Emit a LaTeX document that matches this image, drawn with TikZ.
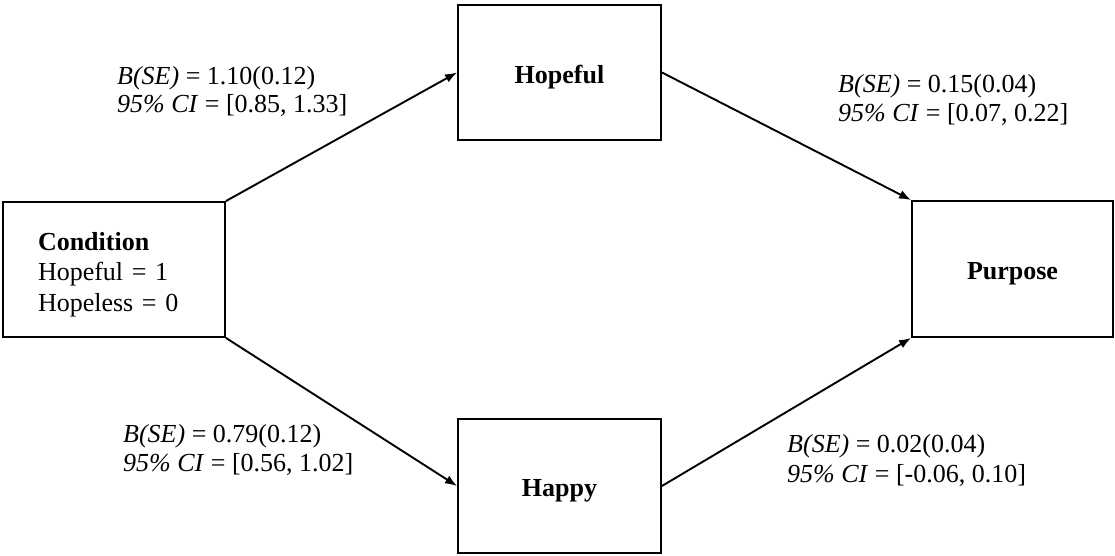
\documentclass[tikz,border=0pt]{standalone}
\usepackage{fontspec}
\setmainfont{Liberation Serif}
\usetikzlibrary{arrows.meta}
\tikzset{
  box/.style={draw=black, line width=1.9pt, rectangle, inner sep=0pt, font=\fontsize{26}{30}\selectfont\bfseries},
  conn/.style={line width=1.9pt, -{Latex[length=12pt,width=9pt]}},
  lab/.style={anchor=base west, inner sep=0pt, font=\fontsize{26}{30}\selectfont}
}
\begin{document}
\begin{tikzpicture}[x=1pt,y=1pt]
\useasboundingbox (0,0) rectangle (1115,556);
\node[box, minimum width=222pt, minimum height=135pt, inner xsep=35pt, text width=152pt, align=left, font=\fontsize{26}{30.5}\selectfont] (cond) at (114,286.5)
  {\rule{0pt}{28pt}\textbf{Condition}\\Hopeful = 1\\Hopeless = 0};
\node[box, minimum width=203pt, minimum height=135pt, text height=28pt, text depth=6pt] (hopeful) at (559.5,483.5) {Hopeful};
\node[box, minimum width=203pt, minimum height=134pt, text height=28pt, text depth=6pt] (happy) at (559.5,70) {Happy};
\node[box, minimum width=201pt, minimum height=136pt, text height=28pt, text depth=6pt] (purpose) at (1012.5,287) {Purpose};

\draw[conn] (cond.north east) -- (hopeful.west);
\draw[conn] (hopeful.east) -- (purpose.north west);
\draw[conn] (cond.south east) -- (happy.west);
\draw[conn] (happy.east) -- (purpose.south west);

\node[lab] (l1a) at (117,471) {\textit{B(SE)} = 1.10(0.12)};
\node[lab] (l1b) at (117,443) {\textit{95\% CI} = [0.85, 1.33]};
\node[lab] (l2a) at (838,463) {\textit{B(SE)} = 0.15(0.04)};
\node[lab] (l2b) at (838,434) {\textit{95\% CI} = [0.07, 0.22]};
\node[lab] (l3a) at (123,113) {\textit{B(SE)} = 0.79(0.12)};
\node[lab] (l3b) at (123,84) {\textit{95\% CI} = [0.56, 1.02]};
\node[lab] (l4a) at (787,103) {\textit{B(SE)} = 0.02(0.04)};
\node[lab] (l4b) at (787,73) {\textit{95\% CI} = [-0.06, 0.10]};
\end{tikzpicture}
\end{document}
